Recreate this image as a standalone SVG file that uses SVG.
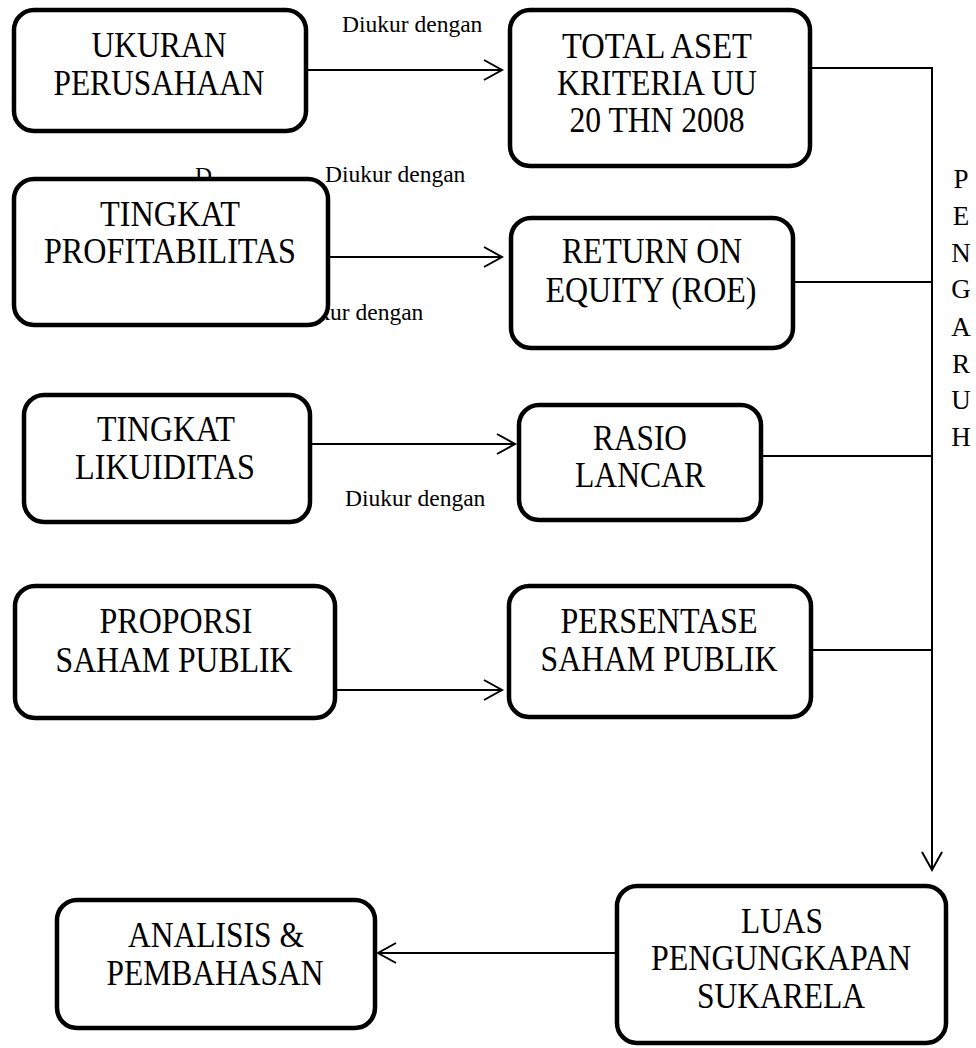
<svg xmlns="http://www.w3.org/2000/svg" width="976" height="1048" viewBox="0 0 976 1048" font-family="'Liberation Serif', 'Times New Roman', serif">
<style>
.box{fill:#fff;stroke:#000;stroke-width:4.5}
.ln{fill:none;stroke:#000;stroke-width:2}
.nodetext{font-family:"Liberation Serif",serif;font-size:35px;text-anchor:middle;fill:#000}
.lbl{font-family:"Liberation Serif",serif;font-size:23.5px;fill:#000}
.v{font-family:"Liberation Serif",serif;font-size:27px;text-anchor:middle;fill:#000}
</style>
<defs>
<marker id="arr" markerUnits="userSpaceOnUse" markerWidth="24" markerHeight="24" viewBox="-20 -12 24 24" refX="0" refY="0" orient="auto" overflow="visible">
<path d="M-18,-10 L0,0 L-18,10" fill="none" stroke="#000" stroke-width="2"/>
</marker>
</defs>
<g id="connectors">
<line class="ln" x1="308" y1="70" x2="502" y2="70" marker-end="url(#arr)"/>
<line class="ln" x1="330" y1="257" x2="502" y2="257" marker-end="url(#arr)"/>
<line class="ln" x1="310" y1="444" x2="515" y2="444" marker-end="url(#arr)"/>
<line class="ln" x1="335" y1="690" x2="502" y2="690" marker-end="url(#arr)"/>
<line class="ln" x1="810" y1="68" x2="932" y2="68"/>
<line class="ln" x1="795" y1="282" x2="932" y2="282"/>
<line class="ln" x1="763" y1="456" x2="932" y2="456"/>
<line class="ln" x1="811" y1="650" x2="932" y2="650"/>
<line class="ln" x1="932" y1="67" x2="932" y2="870" marker-end="url(#arr)"/>
<line class="ln" x1="617" y1="953" x2="378" y2="953" marker-end="url(#arr)"/>
<text class="lbl" x="342" y="32">Diukur dengan</text>
<text class="lbl" x="195" y="183">D</text>
<text class="lbl" x="325" y="182">Diukur dengan</text>
<text class="lbl" x="283" y="320">Diukur dengan</text>
<text class="lbl" x="345" y="506">Diukur dengan</text>
<g id="pengaruh">
<text class="v" x="961" y="188">P</text>
<text class="v" x="961" y="225">E</text>
<text class="v" x="961" y="262">N</text>
<text class="v" x="961" y="298">G</text>
<text class="v" x="961" y="336">A</text>
<text class="v" x="961" y="373">R</text>
<text class="v" x="961" y="409">U</text>
<text class="v" x="961" y="446">H</text>
</g>
</g>
<g id="ukuran">
<rect class="box" x="14" y="10" width="292" height="121" rx="20"/>
<text class="nodetext" x="159" y="57" textLength="135" lengthAdjust="spacingAndGlyphs">UKURAN</text>
<text class="nodetext" x="159" y="95" textLength="211" lengthAdjust="spacingAndGlyphs">PERUSAHAAN</text>
</g>
<g id="totalaset">
<rect class="box" x="510" y="10" width="300" height="156" rx="20"/>
<text class="nodetext" x="657" y="58" textLength="190" lengthAdjust="spacingAndGlyphs">TOTAL ASET</text>
<text class="nodetext" x="657" y="95" textLength="200" lengthAdjust="spacingAndGlyphs">KRITERIA UU</text>
<text class="nodetext" x="657" y="132" textLength="175" lengthAdjust="spacingAndGlyphs">20 THN 2008</text>
</g>
<g id="profitabilitas">
<rect class="box" x="14" y="179" width="314" height="146" rx="20"/>
<text class="nodetext" x="170" y="226" textLength="140" lengthAdjust="spacingAndGlyphs">TINGKAT</text>
<text class="nodetext" x="170" y="263" textLength="252" lengthAdjust="spacingAndGlyphs">PROFITABILITAS</text>
</g>
<g id="roe">
<rect class="box" x="511" y="218" width="282" height="130" rx="20"/>
<text class="nodetext" x="652" y="263" textLength="180" lengthAdjust="spacingAndGlyphs">RETURN ON</text>
<text class="nodetext" x="651" y="302" textLength="211" lengthAdjust="spacingAndGlyphs">EQUITY (ROE)</text>
</g>
<g id="likuiditas">
<rect class="box" x="24" y="395" width="286" height="127" rx="20"/>
<text class="nodetext" x="166" y="441" textLength="138" lengthAdjust="spacingAndGlyphs">TINGKAT</text>
<text class="nodetext" x="165" y="479" textLength="180" lengthAdjust="spacingAndGlyphs">LIKUIDITAS</text>
</g>
<g id="rasio">
<rect class="box" x="519" y="405" width="242" height="115" rx="20"/>
<text class="nodetext" x="640" y="450" textLength="94" lengthAdjust="spacingAndGlyphs">RASIO</text>
<text class="nodetext" x="640" y="487" textLength="130" lengthAdjust="spacingAndGlyphs">LANCAR</text>
</g>
<g id="proporsi">
<rect class="box" x="15" y="586" width="320" height="132" rx="20"/>
<text class="nodetext" x="176" y="633" textLength="153" lengthAdjust="spacingAndGlyphs">PROPORSI</text>
<text class="nodetext" x="174" y="672" textLength="237" lengthAdjust="spacingAndGlyphs">SAHAM PUBLIK</text>
</g>
<g id="persentase">
<rect class="box" x="509" y="586" width="302" height="131" rx="20"/>
<text class="nodetext" x="659" y="633" textLength="197" lengthAdjust="spacingAndGlyphs">PERSENTASE</text>
<text class="nodetext" x="659" y="671" textLength="237" lengthAdjust="spacingAndGlyphs">SAHAM PUBLIK</text>
</g>
<g id="analisis">
<rect class="box" x="57" y="900" width="318" height="128" rx="20"/>
<text class="nodetext" x="216" y="947" textLength="176" lengthAdjust="spacingAndGlyphs">ANALISIS &amp;</text>
<text class="nodetext" x="215" y="985" textLength="217" lengthAdjust="spacingAndGlyphs">PEMBAHASAN</text>
</g>
<g id="luas">
<rect class="box" x="617" y="886" width="329" height="157" rx="20"/>
<text class="nodetext" x="782" y="933" textLength="82" lengthAdjust="spacingAndGlyphs">LUAS</text>
<text class="nodetext" x="781" y="970" textLength="260" lengthAdjust="spacingAndGlyphs">PENGUNGKAPAN</text>
<text class="nodetext" x="781" y="1008" textLength="168" lengthAdjust="spacingAndGlyphs">SUKARELA</text>
</g>
</svg>
